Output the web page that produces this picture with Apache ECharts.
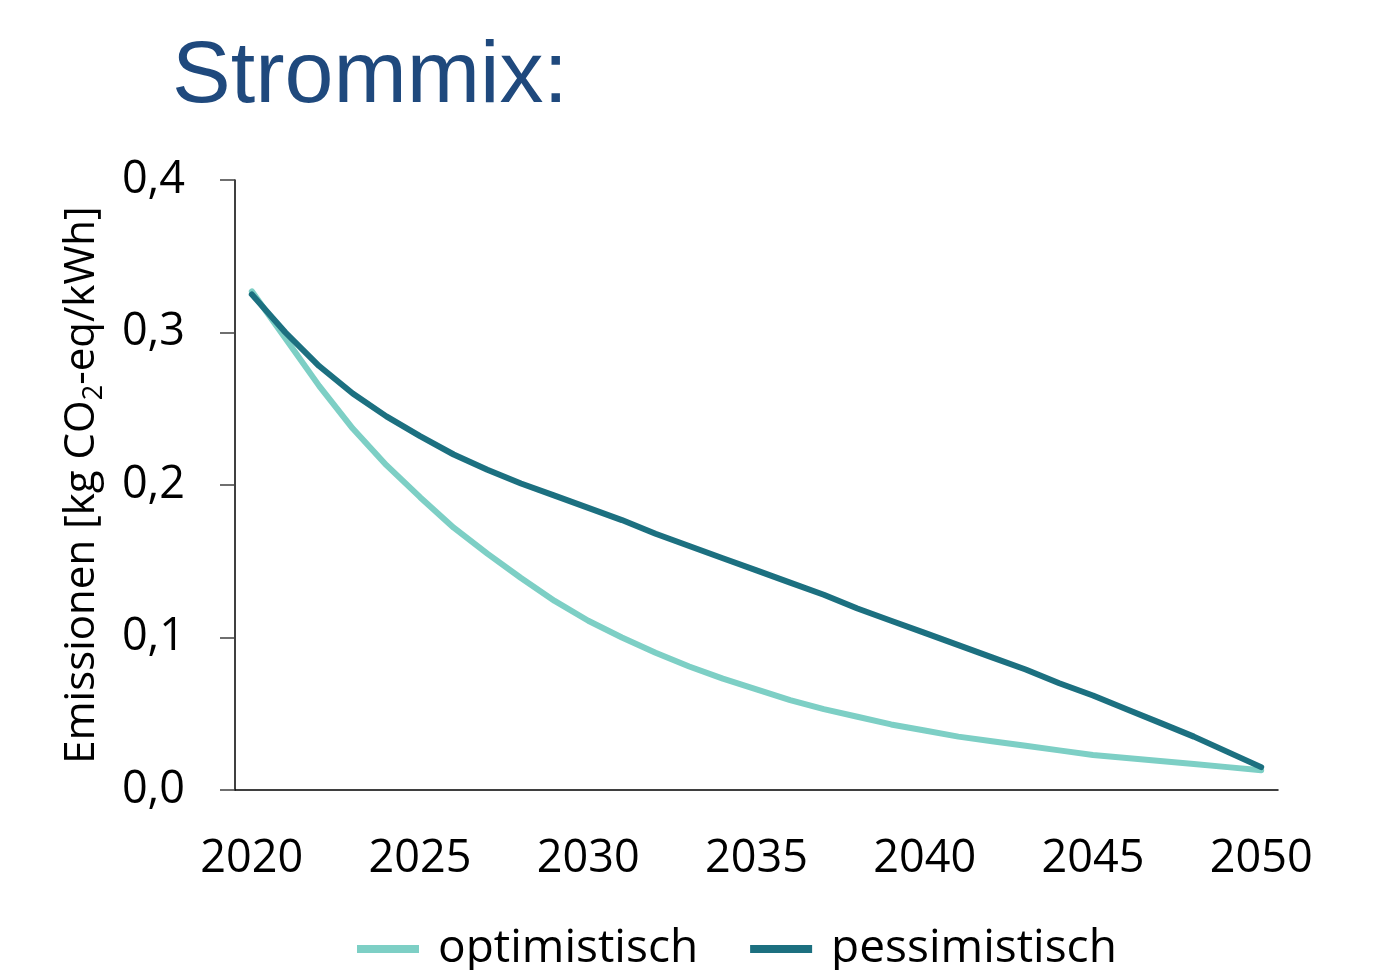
<!DOCTYPE html>
<html>
<head>
<meta charset="utf-8">
<script src="https://cdn.jsdelivr.net/npm/echarts@6/dist/echarts.min.js"></script>
<style>
  html, body { margin: 0; padding: 0; background: #ffffff; }
  #chart { width: 1378px; height: 970px; }
</style>
</head>
<body>
<div id="chart"></div>
<script>
// Jahre 2020–2050
const years = [];
for (let y = 2020; y <= 2050; y++) years.push(String(y));

// Emissionsfaktor Strommix [kg CO2-eq/kWh]
const optimistisch = [
  0.327, 0.296, 0.265, 0.237, 0.213, 0.192, 0.172, 0.155, 0.139, 0.124,
  0.111, 0.100, 0.090, 0.081, 0.073, 0.066, 0.059, 0.053, 0.048, 0.043,
  0.039, 0.035, 0.032, 0.029, 0.026, 0.023, 0.021, 0.019, 0.017, 0.015,
  0.013
];
const pessimistisch = [
  0.325, 0.300, 0.278, 0.260, 0.245, 0.232, 0.220, 0.210, 0.201, 0.193,
  0.185, 0.177, 0.168, 0.160, 0.152, 0.144, 0.136, 0.128, 0.119, 0.111,
  0.103, 0.095, 0.087, 0.079, 0.070, 0.062, 0.053, 0.044, 0.035, 0.025,
  0.015
];

const seriesNames = ['optimistisch', 'pessimistisch'];
const colors = ['#7dcfc5', '#1c7080'];
const labelFont = '"Open Sans", "Noto Sans", sans-serif';

const chart = echarts.init(document.getElementById('chart'), null, { renderer: 'canvas' });

chart.setOption({
  backgroundColor: '#ffffff',
  animation: false,
  title: {
    text: 'Strommix:',
    left: 167,
    top: 29,
    textStyle: {
      fontFamily: '"Liberation Sans", Arial, sans-serif',
      fontSize: 88,
      fontWeight: 'normal',
      color: '#1f497d'
    }
  },
  legend: {
    bottom: -7,
    left: 352,
    itemWidth: 62,
    itemHeight: 8,
    itemGap: 52,
    icon: 'rect',
    data: seriesNames,
    textStyle: {
      fontFamily: labelFont,
      fontSize: 46,
      color: '#000000',
      padding: [0, 0, 0, 14]
    }
  },
  grid: {
    left: 235,
    right: 100,
    top: 180,
    bottom: 180,
    containLabel: false
  },
  xAxis: {
    type: 'category',
    data: years,
    boundaryGap: true,
    axisLine: { show: true, lineStyle: { color: '#000000', width: 1.5 } },
    axisTick: { show: false },
    axisLabel: {
      interval: 4,
      margin: 47,
      fontFamily: labelFont,
      fontSize: 45,
      color: '#000000'
    },
    splitLine: { show: false }
  },
  yAxis: {
    type: 'value',
    min: 0,
    max: 0.4,
    interval: 0.1,
    name: '{t|Emissionen [kg CO}{s|2}{t|-eq/kWh]}',
    nameLocation: 'middle',
    nameRotate: 90,
    nameGap: 127,
    nameTextStyle: {
      rich: {
        t: { fontFamily: labelFont, fontSize: 42, color: '#000000' },
        s: { fontFamily: labelFont, fontSize: 27, color: '#000000', padding: [24, 0, 0, 0] }
      }
    },
    axisLine: { show: true, lineStyle: { color: '#000000', width: 1.5 } },
    axisTick: { show: true, length: 15, lineStyle: { color: '#404040', width: 1.5 } },
    axisLabel: {
      margin: 50,
      fontFamily: labelFont,
      fontSize: 45,
      color: '#000000',
      formatter: v => v.toFixed(1).replace('.', ',')
    },
    splitLine: { show: false }
  },
  series: [
    {
      name: seriesNames[0],
      type: 'line',
      data: optimistisch,
      showSymbol: false,
      symbol: 'none',
      lineStyle: { color: colors[0], width: 6, cap: 'round', join: 'round' },
      itemStyle: { color: colors[0] }
    },
    {
      name: seriesNames[1],
      type: 'line',
      data: pessimistisch,
      showSymbol: false,
      symbol: 'none',
      lineStyle: { color: colors[1], width: 6, cap: 'round', join: 'round' },
      itemStyle: { color: colors[1] }
    }
  ]
});
</script>
</body>
</html>
